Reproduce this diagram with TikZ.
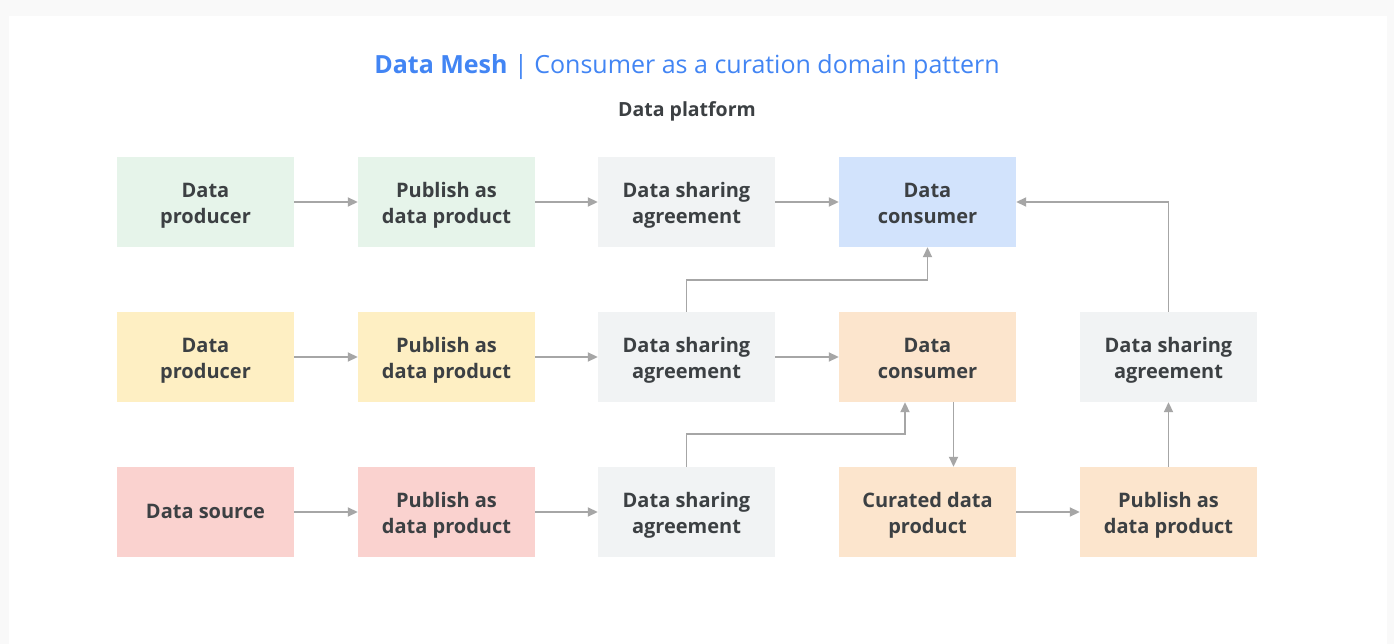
\documentclass[tikz,border=0pt]{standalone}
\usepackage{fontspec}
\setmainfont{Open Sans}
\usetikzlibrary{arrows.meta}
\definecolor{bgc}{HTML}{F9F9F9}
\definecolor{gboxc}{HTML}{E6F4EA}
\definecolor{yboxc}{HTML}{FEEFC3}
\definecolor{rboxc}{HTML}{FAD2CF}
\definecolor{sboxc}{HTML}{F1F3F4}
\definecolor{bboxc}{HTML}{D2E3FC}
\definecolor{oboxc}{HTML}{FCE5CD}
\definecolor{txtc}{HTML}{3C4043}
\definecolor{titlec}{HTML}{4285F4}
\definecolor{arrc}{HTML}{A6A6A6}
\newcommand{\twol}[2]{\strut #1\\\strut #2}
\begin{document}
\begin{tikzpicture}[x=1pt,y=-1pt,
  box/.style={minimum width=177pt,minimum height=90pt,inner sep=0pt,align=center,
    text=txtc,font=\fontsize{20}{26}\selectfont\bfseries},
  boxt/.style={anchor=center,yshift=-3pt,align=center,text=txtc,inner sep=0pt,
    font=\fontsize{20}{26}\selectfont\bfseries},
  conn/.style={draw=arrc,line width=1.8pt,-{Triangle[length=10pt,width=9pt]}}]
\fill[bgc] (0,0) rectangle (1394,644);
\fill[white] (9,16) rectangle (1387,644);
\useasboundingbox (0,0) rectangle (1394,644);
\node[text=titlec,font=\fontsize{25}{28}\selectfont] (title) at (687,67) {\textbf{Data Mesh} | Consumer as a curation domain pattern};
\node[text=txtc,font=\fontsize{19.5}{22}\selectfont\bfseries] (plat) at (687,111) {Data platform};
% row 1
\node[box,fill=gboxc] (a1) at (205.5,202) {};
\node[box,fill=gboxc] (b1) at (446.5,202) {};
\node[box,fill=sboxc] (c1) at (686.5,202) {};
\node[box,fill=bboxc] (d1) at (927.5,202) {};
% row 2
\node[box,fill=yboxc] (a2) at (205.5,357) {};
\node[box,fill=yboxc] (b2) at (446.5,357) {};
\node[box,fill=sboxc] (c2) at (686.5,357) {};
\node[box,fill=oboxc] (d2) at (927.5,357) {};
\node[box,fill=sboxc] (e2) at (1168.5,357) {};
% row 3
\node[box,fill=rboxc] (a3) at (205.5,512) {};
\node[box,fill=rboxc] (b3) at (446.5,512) {};
\node[box,fill=sboxc] (c3) at (686.5,512) {};
\node[box,fill=oboxc] (d3) at (927.5,512) {};
\node[box,fill=oboxc] (e3) at (1168.5,512) {};
% labels
\node[boxt] (ta1) at (a1) {\twol{Data}{producer}};
\node[boxt] (tb1) at (b1) {\twol{Publish as}{data product}};
\node[boxt] (tc1) at (c1) {\twol{Data sharing}{agreement}};
\node[boxt] (td1) at (d1) {\twol{Data}{consumer}};
\node[boxt] (ta2) at (a2) {\twol{Data}{producer}};
\node[boxt] (tb2) at (b2) {\twol{Publish as}{data product}};
\node[boxt] (tc2) at (c2) {\twol{Data sharing}{agreement}};
\node[boxt] (td2) at (d2) {\twol{Data}{consumer}};
\node[boxt] (te2) at (e2) {\twol{Data sharing}{agreement}};
\node[boxt,yshift=2pt] (ta3) at (a3) {\strut Data source};
\node[boxt] (tb3) at (b3) {\twol{Publish as}{data product}};
\node[boxt] (tc3) at (c3) {\twol{Data sharing}{agreement}};
\node[boxt] (td3) at (d3) {\twol{Curated data}{product}};
\node[boxt] (te3) at (e3) {\twol{Publish as}{data product}};
% connectors
\draw[conn] (a1) -- (b1);
\draw[conn] (b1) -- (c1);
\draw[conn] (c1) -- (d1);
\draw[conn] (a2) -- (b2);
\draw[conn] (b2) -- (c2);
\draw[conn] (c2) -- (d2);
\draw[conn] (a3) -- (b3);
\draw[conn] (b3) -- (c3);
\draw[conn] (d3) -- (e3);
\draw[conn] (c2.north) -- ++(0,-32) -| (d1.south);
\draw[conn] (c3.north) -- ++(0,-33) -| ([xshift=-22.5pt]d2.south);
\draw[conn] ([xshift=26pt]d2.south) -- ([xshift=26pt]d3.north);
\draw[conn] (e3) -- (e2);
\draw[conn] (e2.north) |- (d1.east);
\end{tikzpicture}
\end{document}
